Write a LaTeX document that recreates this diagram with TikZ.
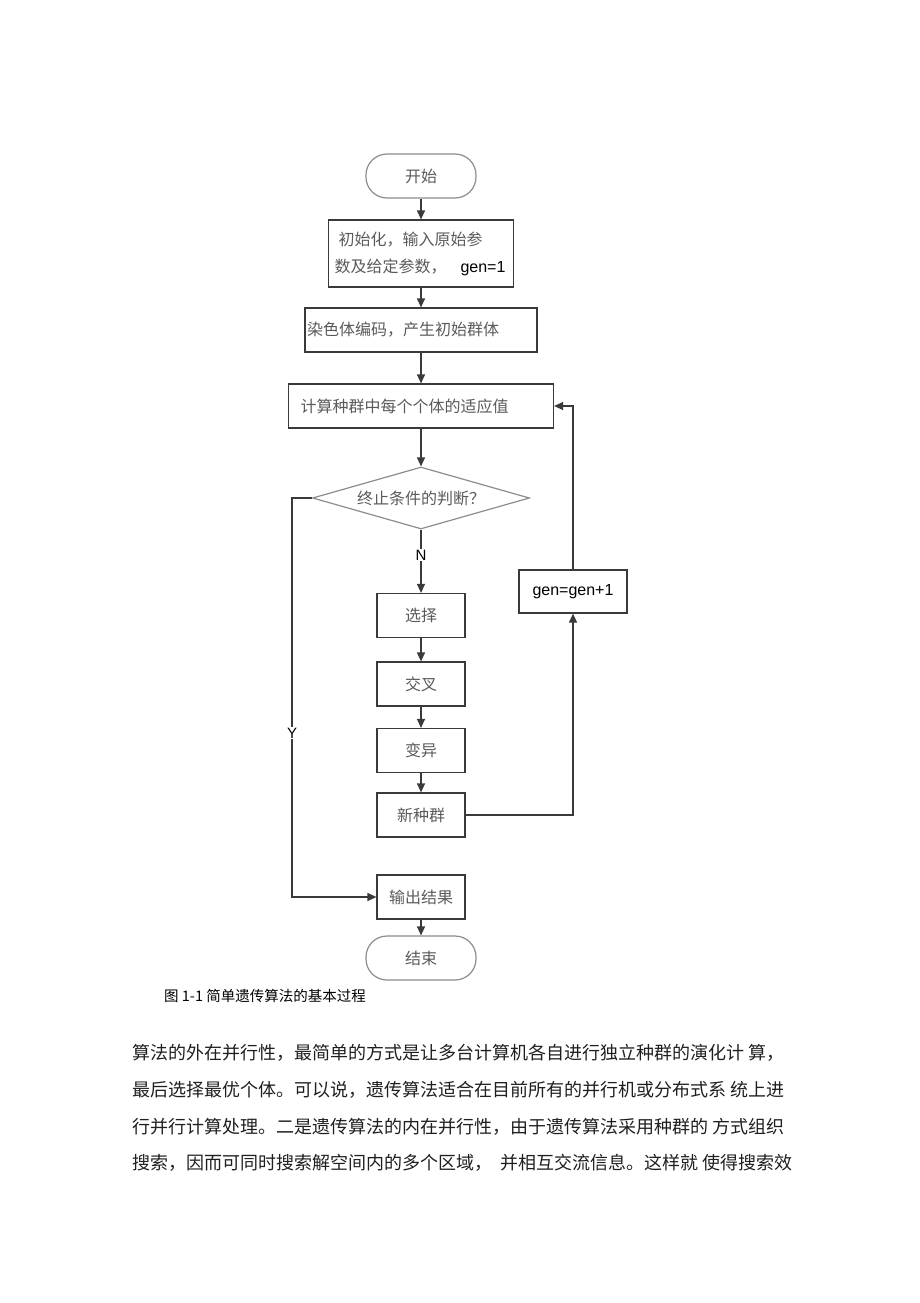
\documentclass[tikz,border=0pt]{standalone}
\usepackage{fontspec}
\newfontfamily\cjk{Noto Sans CJK SC}
\setsansfont{Liberation Sans}
\usetikzlibrary{arrows.meta,shapes.geometric}
\definecolor{edgec}{HTML}{3A3A3A}
\definecolor{termc}{HTML}{8C8C8C}
\definecolor{txtc}{HTML}{5A5A5A}
\begin{document}
\begin{tikzpicture}[x=1pt,y=-1pt,
  box/.style={draw=edgec,line width=1.2pt,inner sep=0pt,minimum height=44pt,text=txtc,font=\cjk\fontsize{16}{27}\selectfont},
  term/.style={box,draw=termc,rounded corners=21pt,minimum width=110pt},
  dec/.style={box,diamond,draw=termc,aspect=3.5,minimum width=217pt,minimum height=62pt},
  arr/.style={draw=edgec,line width=1.2pt,-{Triangle[length=9pt,width=8pt]}},
  lab/.style={fill=white,inner sep=1pt,font=\sffamily\fontsize{15}{15}\selectfont},
  para/.style={anchor=west,inner sep=0pt,text=black!88,font=\cjk\fontsize{18}{18}\selectfont}]
\useasboundingbox (0,0) rectangle (920,1303);
\coordinate (ycol) at (292,0);
\node[term] (start) at (421,176) {开始};
\node[box,minimum width=185pt,minimum height=67pt,text width=173pt,inner xsep=6pt,align=left] (init) at (421,253.5) {\hspace{4pt}初始化，输入原始参\\数及给定参数，\hspace{14pt}{\sffamily\color{black}gen=1}};
\node[box,text width=228pt,inner xsep=2pt,align=left] (code) at (421,330) {染色体编码，产生初始群体};
\node[box,text width=241pt,inner xsep=12pt,align=left] (fit) at (421,406) {计算种群中每个个体的适应值};
\node[dec] (cond) at (421,498) {终止条件的判断？};
\node[box,minimum width=88pt] (sel) at (421,615.5) {选择};
\node[box,minimum width=88pt] (cross) at (421,684) {交叉};
\node[box,minimum width=88pt] (mut) at (421,750.5) {变异};
\node[box,minimum width=88pt] (new) at (421,815) {新种群};
\node[box,minimum width=108pt,minimum height=43pt,text=black,font=\sffamily\fontsize{16}{16}\selectfont] (gen) at (573,591.5) {gen=gen+1};
\node[box,minimum width=88pt] (out) at (421,897) {输出结果};
\node[term] (end) at (421,958) {结束};
\draw[arr] (start) -- (init);
\draw[arr] (init) -- (code);
\draw[arr] (code) -- (fit);
\draw[arr] (fit) -- (cond);
\draw[arr] (cond) -- node[lab,pos=0.4] (nlab) {N} (sel);
\draw[arr] (sel) -- (cross);
\draw[arr] (cross) -- (mut);
\draw[arr] (mut) -- (new);
\draw[arr] (new) -| (gen);
\draw[arr] (gen) |- (fit);
\draw[arr] (cond.west) -- (cond.west -| ycol) |- (out.west);
\node[lab] (ylab) at (292,733) {Y};
\draw[arr] (out) -- (end);
% caption and running text
\node[para,text=black,font=\cjk\fontsize{14.5}{14.5}\selectfont] (cap) at (164,996) {图 1-1 简单遗传算法的基本过程};
\node[para] (p1) at (132,1053) {算法的外在并行性，最简单的方式是让多台计算机各自进行独立种群的演化计 算，};
\node[para] (p2) at (132,1090) {最后选择最优个体。可以说，遗传算法适合在目前所有的并行机或分布式系 统上进};
\node[para] (p3) at (132,1127) {行并行计算处理。二是遗传算法的内在并行性，由于遗传算法采用种群的 方式组织};
\node[para] (p4) at (132,1163) {搜索，因而可同时搜索解空间内的多个区域，\ \ 并相互交流信息。这样就 使得搜索效};
\end{tikzpicture}
\end{document}
